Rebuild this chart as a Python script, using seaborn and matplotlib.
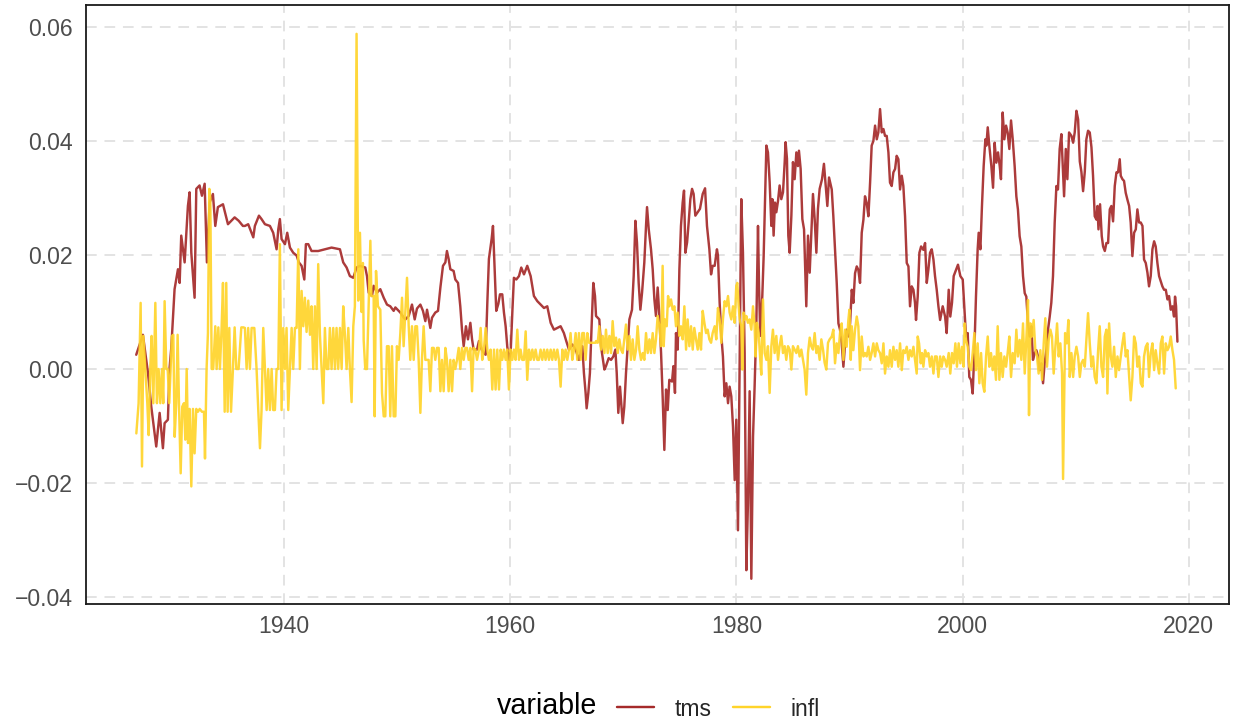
import numpy as np
import pandas as pd
import matplotlib
matplotlib.use("Agg")
import matplotlib.pyplot as plt
import seaborn as sns
from matplotlib.lines import Line2D

# ---------------- data (decimal year, value in per-mille) ----------------
tms_year = [
    1926.94, 1927.53, 1927.98, 1928.27, 1928.71, 1929.01, 1929.30, 1929.45, 1929.74, 1929.89,
    1930.04, 1930.33, 1930.63, 1930.78, 1930.92, 1931.22, 1931.51, 1931.66, 1931.81, 1932.10,
    1932.25, 1932.54, 1932.75, 1932.99, 1933.19, 1933.43, 1933.72, 1933.93, 1934.16, 1934.61,
    1935.05, 1935.64, 1936.00, 1936.37,
    1936.55, 1936.84, 1937.14, 1937.29, 1937.43, 1937.79, 1938.02, 1938.32, 1938.76, 1939.05,
    1939.35, 1939.50, 1939.64, 1939.79, 1940.09, 1940.29, 1940.53, 1940.82, 1941.12, 1941.32,
    1941.56, 1941.80, 1941.94, 1942.15, 1942.44, 1943.03, 1943.62, 1944.21, 1944.95, 1945.24,
    1945.54, 1945.83, 1946.13, 1946.42, 1946.72,
    1947.19, 1947.34, 1947.49, 1947.78, 1947.93, 1948.23, 1948.52, 1948.82, 1949.11, 1949.40,
    1949.70, 1949.85, 1950.14, 1950.29, 1950.58, 1950.73, 1951.03, 1951.32, 1951.56, 1951.76,
    1952.06, 1952.29, 1952.50, 1952.65, 1952.94, 1953.09, 1953.38, 1953.62, 1953.83, 1954.06,
    1954.27, 1954.41, 1954.56, 1954.71, 1955.00, 1955.15, 1955.39, 1955.59, 1955.74, 1955.89,
    1956.09, 1956.27, 1956.48, 1956.63, 1956.77, 1957.07,
    1957.24, 1957.48, 1957.68, 1957.83, 1957.98, 1958.12, 1958.36, 1958.48, 1958.63, 1958.77,
    1958.95, 1959.10, 1959.30, 1959.45, 1959.60, 1959.74, 1959.89, 1960.04, 1960.19, 1960.33,
    1960.54, 1960.78, 1960.98, 1961.22, 1961.51, 1961.81, 1962.10, 1962.40, 1962.69, 1962.99,
    1963.28, 1963.58, 1963.87, 1964.17, 1964.46, 1964.75, 1964.96, 1965.20, 1965.49, 1965.79,
    1966.08, 1966.38, 1966.52, 1966.67, 1966.76, 1966.91, 1967.05, 1967.20, 1967.35, 1967.50,
    1967.59, 1967.88, 1968.03, 1968.33, 1968.47, 1968.71, 1968.92, 1969.12, 1969.30, 1969.42,
    1969.56, 1969.71, 1969.95, 1970.09, 1970.24, 1970.54, 1970.77, 1970.92, 1971.07, 1971.21,
    1971.36, 1971.51, 1971.66, 1971.86, 1972.01, 1972.10, 1972.25, 1972.45, 1972.60, 1972.75,
    1972.89, 1973.04, 1973.19, 1973.34, 1973.48, 1973.63, 1973.78, 1973.93, 1974.07, 1974.31,
    1974.43, 1974.57, 1974.66, 1974.81, 1974.96, 1975.10, 1975.25, 1975.37, 1975.49, 1975.64,
    1975.78, 1975.93, 1976.08, 1976.22, 1976.37, 1976.58, 1976.78, 1977.02, 1977.23, 1977.40,
    1977.61, 1977.76, 1977.90,
    1978.08, 1978.28, 1978.37, 1978.52, 1978.67, 1978.81, 1978.96, 1979.11, 1979.26, 1979.40,
    1979.55, 1979.70, 1979.85, 1979.99, 1980.14, 1980.29, 1980.43, 1980.58, 1980.73, 1980.88,
    1981.02, 1981.17, 1981.32, 1981.47, 1981.61, 1981.76, 1981.91, 1982.00, 1982.11, 1982.29,
    1982.41, 1982.53, 1982.65, 1982.79, 1982.94, 1983.09, 1983.18, 1983.29, 1983.41, 1983.53,
    1983.68, 1983.82, 1983.97, 1984.12, 1984.27, 1984.35, 1984.47, 1984.59, 1984.71, 1984.86,
    1985.00, 1985.15, 1985.30, 1985.44, 1985.53, 1985.68, 1985.83, 1985.98, 1986.18, 1986.33,
    1986.48, 1986.62, 1986.77, 1986.92, 1987.07, 1987.21, 1987.36, 1987.57, 1987.74, 1987.89,
    1988.04, 1988.19,
    1988.43, 1988.57, 1988.72, 1988.87, 1989.02, 1989.16, 1989.31, 1989.46, 1989.61, 1989.75,
    1989.90, 1990.05, 1990.20, 1990.34, 1990.49, 1990.64, 1990.78, 1990.93, 1991.08, 1991.23,
    1991.37, 1991.52, 1991.67, 1991.82, 1991.96, 1992.11, 1992.26, 1992.41, 1992.55, 1992.70,
    1992.85, 1993.00, 1993.14, 1993.29, 1993.44, 1993.58, 1993.73, 1993.88, 1994.03, 1994.17,
    1994.32, 1994.47, 1994.62, 1994.76, 1994.91, 1995.06, 1995.21, 1995.35, 1995.50, 1995.65,
    1995.79, 1995.88, 1996.03, 1996.18, 1996.33, 1996.53, 1996.68, 1996.83, 1996.97, 1997.12,
    1997.27, 1997.42, 1997.56, 1997.71, 1997.86, 1998.01, 1998.24, 1998.45, 1998.59,
    1998.77, 1998.91, 1999.06, 1999.21, 1999.42, 1999.59, 1999.80, 2000.01, 2000.15, 2000.30,
    2000.45, 2000.59, 2000.74, 2000.89, 2001.04, 2001.18, 2001.33, 2001.42, 2001.57, 2001.71,
    2001.86, 2002.01, 2002.10, 2002.22, 2002.36, 2002.54, 2002.69, 2002.83, 2002.98, 2003.13,
    2003.28, 2003.39, 2003.54, 2003.69, 2003.84, 2003.98, 2004.13, 2004.28, 2004.43, 2004.60,
    2004.75, 2004.89, 2005.04, 2005.19, 2005.34, 2005.49, 2005.63, 2005.78, 2005.93, 2006.08,
    2006.22, 2006.37, 2006.52, 2006.67, 2006.81, 2006.96, 2007.11, 2007.25, 2007.40, 2007.55,
    2007.70, 2007.84, 2007.99, 2008.14, 2008.29, 2008.43, 2008.58, 2008.73,
    2008.97, 2009.12, 2009.26, 2009.41, 2009.62, 2009.77, 2009.91, 2010.06, 2010.21, 2010.36,
    2010.50, 2010.65, 2010.80, 2010.94, 2011.09, 2011.24, 2011.39, 2011.53, 2011.68, 2011.83,
    2011.92, 2012.01, 2012.15, 2012.30, 2012.42, 2012.57, 2012.71, 2012.86, 2013.01, 2013.15,
    2013.30, 2013.45, 2013.60, 2013.74, 2013.89, 2013.98, 2014.13, 2014.27, 2014.42, 2014.57,
    2014.72, 2014.86, 2015.01, 2015.16, 2015.31, 2015.45, 2015.60, 2015.75, 2015.90, 2016.04,
    2016.19, 2016.34, 2016.48, 2016.63, 2016.78, 2016.93, 2017.07, 2017.22, 2017.37, 2017.52,
    2017.66, 2017.81, 2017.96, 2018.11, 2018.25, 2018.40, 2018.55, 2018.69, 2018.78, 2018.87,
    2018.99,
]
tms_permille = [
    2.5, 6.0, -0.7, -6.6, -13.6, -7.7, -13.9, -9.5, -8.9, 0.2,
    3.7, 14.0, 17.5, 15.1, 23.4, 18.7, 28.6, 31.0, 20.4, 12.5,
    31.6, 32.2, 30.4, 32.5, 18.7, 29.2, 30.7, 25.1, 28.4, 28.9,
    25.4, 26.6, 26.0, 25.1,
    25.1, 25.4, 23.9, 23.1, 25.1, 26.9, 26.3, 25.4, 25.1, 23.9,
    21.0, 24.5, 26.3, 22.8, 21.9, 23.9, 21.3, 20.4, 19.9, 18.7,
    18.1, 15.7, 21.9, 21.9, 20.7, 20.7, 21.0, 21.3, 21.0, 18.7,
    17.8, 16.3, 16.0, 17.8, 18.1,
    17.8, 16.3, 13.4, 12.8, 14.6, 13.4, 14.0, 12.5, 11.3, 11.0,
    10.2, 10.8, 10.2, 9.9, 9.0, 8.7, 9.3, 11.3, 8.7, 10.6,
    11.3, 10.2, 8.4, 10.4, 7.2, 9.0, 9.9, 10.2, 14.3, 18.1,
    18.7, 20.7, 19.3, 17.5, 17.2, 15.7, 15.1, 11.0, 6.9, 4.0,
    7.5, 5.2, 8.1, 5.2, 3.4, 3.4,
    4.9, 3.4, 2.8, 2.5, 11.6, 19.3, 22.8, 25.1, 17.5, 10.2,
    11.4, 13.1, 13.1, 9.9, 7.5, 4.0, 1.6, 2.8, 9.9, 16.0,
    15.7, 16.3, 17.8, 16.6, 18.1, 16.3, 12.8, 11.9, 11.3, 10.7,
    11.0, 8.1, 6.9, 7.2, 7.5, 6.3, 4.9, 3.4, 4.3, 3.4,
    1.6, 4.0, -0.7, -4.2, -6.9, -4.2, -0.7, 7.5, 15.1, 12.8,
    9.3, 8.7, 4.0, -0.1, 0.5, 1.9, 1.6, 2.2, 3.4, -0.7,
    -7.7, -3.1, -9.5, -6.6, -0.7, 8.7, 10.4, 16.3, 26.0, 22.2,
    15.1, 10.4, 13.4, 18.7, 25.1, 28.4, 24.5, 21.0, 17.5, 12.2,
    9.3, 14.3, 9.3, 2.8, -4.8, -14.2, -3.6, -7.2, -1.9, -2.2,
    0.5, -4.2, 6.3, 3.4, 17.5, 25.1, 29.2, 31.3, 20.4, 22.2,
    25.7, 29.8, 31.6, 30.7, 26.9, 27.5, 28.1, 30.7, 31.7, 25.1,
    21.0, 16.6, 18.1,
    18.1, 21.0, 19.9, 11.6, 5.8, 2.2, -4.8, -2.5, -6.0, -3.1,
    -4.8, -10.1, -19.5, -8.9, -28.3, 2.8, 29.8, 20.4, 2.8, -35.3,
    -23.6, -3.9, -36.8, -11.9, -3.1, 7.5, 25.1, 14.6, 5.8, 12.8,
    19.8, 29.2, 39.2, 38.0, 32.8, 25.1, 29.8, 23.4, 29.2, 27.5,
    29.5, 32.2, 29.8, 31.0, 36.3, 39.8, 36.9, 23.4, 20.4, 26.9,
    36.3, 33.3, 38.0, 35.6, 38.3, 35.1, 26.3, 24.5, 11.0, 23.4,
    16.9, 23.4, 30.7, 26.3, 20.4, 28.1, 31.6, 33.3, 36.0, 32.2,
    28.6, 33.6,
    31.5, 26.8, 21.0, 15.1, 8.0, 6.9, 4.5, 0.4, 4.5, 6.9,
    5.7, 8.0, 13.9, 11.6, 16.8, 18.0, 17.4, 15.1, 23.9, 26.2,
    30.3, 29.1, 26.8, 32.7, 39.2, 40.0, 42.7, 40.3, 41.5, 45.6,
    41.5, 42.1, 40.9, 40.9, 38.0, 32.7, 32.1, 34.5, 35.1, 37.4,
    36.8, 31.5, 33.9, 32.1, 26.8, 18.6, 18.0, 11.0, 14.5, 13.9,
    11.6, 8.6, 12.7, 20.4, 21.5, 20.9, 22.1, 15.1, 17.4, 20.4,
    21.0, 19.2, 16.3, 13.9, 11.0, 8.6, 11.0, 9.2, 6.3,
    13.9, 9.2, 11.6, 16.3, 17.4, 18.3, 16.3, 15.7, 11.0, 5.7,
    6.3, -1.4, -1.9, -4.3, 3.3, 12.7, 21.0, 23.9, 21.0, 28.6,
    35.6, 40.3, 39.2, 42.4, 39.2, 35.6, 31.8, 39.7, 36.2, 38.0,
    35.6, 33.3, 45.0, 40.3, 42.7, 41.5, 38.6, 43.6, 40.3, 35.6,
    30.3, 28.0, 23.3, 21.5, 16.3, 13.3, 12.7, 8.0, 5.7, 7.5,
    1.6, 2.8, 3.3, 2.2, -0.2, 1.0, -2.5, 1.0, 3.3, 6.9,
    9.2, 11.6, 16.3, 25.7, 32.1, 31.5, 38.6, 41.2,
    30.3, 38.6, 33.3, 41.5, 40.9, 39.7, 41.5, 45.3, 43.8, 36.4,
    34.6, 31.2, 34.6, 40.3, 41.8, 41.5, 38.9, 33.9, 26.8, 26.2,
    28.6, 24.5, 28.9, 23.3, 21.5, 20.7, 22.1, 22.1, 28.0, 28.6,
    25.9, 32.1, 34.5, 34.5, 36.8, 33.9, 33.3, 33.0, 30.9, 29.7,
    28.6, 25.7, 19.8, 23.9, 24.5, 28.0, 25.7, 25.7, 25.1, 19.2,
    18.6, 16.9, 14.5, 16.3, 21.0, 22.4, 21.5, 18.6, 16.3, 15.4,
    14.5, 13.9, 13.9, 12.2, 12.8, 10.4, 11.0, 9.2, 12.7, 11.0,
    4.8,
]

infl_year = [
    1926.95, 1927.15, 1927.33, 1927.45, 1927.57, 1927.74, 1927.92, 1928.04, 1928.18, 1928.30,
    1928.45, 1928.63, 1928.77, 1928.92, 1929.07, 1929.22, 1929.33, 1929.45, 1929.60, 1929.72,
    1929.86, 1929.98, 1930.10, 1930.22, 1930.34, 1930.48, 1930.60, 1930.72, 1930.87, 1931.01,
    1931.16, 1931.28, 1931.40, 1931.52, 1931.66, 1931.81, 1931.96, 1932.10, 1932.25, 1932.40,
    1932.55, 1932.75, 1932.93, 1933.02, 1933.16, 1933.28, 1933.40, 1933.49, 1933.61, 1933.75,
    1933.93, 1934.05, 1934.20, 1934.34, 1934.49, 1934.61, 1934.76, 1934.90, 1935.02, 1935.17,
    1935.32, 1935.49, 1935.64, 1935.79, 1935.99, 1936.23, 1936.41,
    1936.55, 1936.70, 1936.84, 1936.99, 1937.14, 1937.38, 1937.58, 1937.73, 1937.88, 1938.02,
    1938.17, 1938.32, 1938.47, 1938.61, 1938.76, 1938.91, 1939.05, 1939.20, 1939.35, 1939.50,
    1939.64, 1939.79, 1939.94, 1940.09, 1940.23, 1940.38, 1940.53, 1940.68, 1940.82, 1940.97,
    1941.12, 1941.27, 1941.41, 1941.56, 1941.71, 1941.85, 1942.00, 1942.15, 1942.30, 1942.44,
    1942.59, 1942.74, 1942.89, 1943.03, 1943.18, 1943.33, 1943.48, 1943.62, 1943.77, 1943.92,
    1944.06, 1944.21, 1944.36, 1944.51, 1944.65, 1944.80, 1944.95, 1945.10, 1945.24, 1945.39,
    1945.54, 1945.69, 1945.83, 1945.98, 1946.13, 1946.27, 1946.42, 1946.57, 1946.72, 1946.86,
    1946.98, 1947.05, 1947.19, 1947.34, 1947.64, 1947.73, 1947.93, 1948.02, 1948.14, 1948.31,
    1948.52, 1948.67, 1948.82, 1948.96, 1949.11, 1949.26, 1949.40, 1949.55, 1949.70, 1949.85,
    1949.99, 1950.14, 1950.29, 1950.44, 1950.58, 1950.73, 1950.88, 1951.03, 1951.17, 1951.32,
    1951.47, 1951.62, 1951.76, 1951.91, 1952.06, 1952.20, 1952.35, 1952.50, 1952.65, 1952.79,
    1952.94, 1953.09, 1953.24, 1953.38, 1953.53, 1953.68, 1953.83, 1953.97, 1954.12, 1954.27,
    1954.41, 1954.56, 1954.71, 1954.86, 1955.00, 1955.15, 1955.30, 1955.45, 1955.59, 1955.74,
    1955.89, 1956.04, 1956.18, 1956.33, 1956.48, 1956.63, 1956.77, 1956.92, 1957.07,
    1957.24, 1957.39, 1957.53, 1957.68, 1957.83, 1957.98, 1958.12, 1958.27, 1958.42, 1958.57,
    1958.71, 1958.86, 1959.01, 1959.16, 1959.30, 1959.45, 1959.60, 1959.74, 1959.89, 1960.04,
    1960.19, 1960.33, 1960.48, 1960.63, 1960.78, 1960.92, 1961.07, 1961.22, 1961.37, 1961.51,
    1961.66, 1961.81, 1961.96, 1962.10, 1962.25, 1962.40, 1962.54, 1962.69, 1962.84, 1962.99,
    1963.13, 1963.28, 1963.43, 1963.58, 1963.72, 1963.87, 1964.02, 1964.17, 1964.31, 1964.46,
    1964.61, 1964.75, 1964.90, 1965.05, 1965.20, 1965.34, 1965.49, 1965.64, 1965.79, 1965.93,
    1966.08, 1966.23, 1966.38, 1966.52, 1966.67, 1966.82, 1966.97, 1967.26, 1967.55,
    1967.59, 1967.74, 1967.88, 1968.03, 1968.18, 1968.33, 1968.47, 1968.62, 1968.77, 1968.92,
    1969.06, 1969.21, 1969.36, 1969.51, 1969.65, 1969.80, 1969.95, 1970.09, 1970.24, 1970.39,
    1970.54, 1970.68, 1970.83, 1970.98, 1971.13, 1971.27, 1971.42, 1971.57, 1971.72, 1971.86,
    1972.01, 1972.16, 1972.31, 1972.45, 1972.60, 1972.75, 1972.89, 1973.04, 1973.19, 1973.34,
    1973.48, 1973.57, 1973.69, 1973.84, 1973.96, 1974.07, 1974.22, 1974.37, 1974.52, 1974.66,
    1974.81, 1974.96, 1975.10, 1975.25, 1975.40, 1975.55, 1975.69, 1975.84, 1975.99, 1976.14,
    1976.28, 1976.43, 1976.58, 1976.73, 1976.87, 1977.02, 1977.17, 1977.32, 1977.46, 1977.61,
    1977.76, 1977.90,
    1978.08, 1978.22, 1978.37, 1978.52, 1978.67, 1978.81, 1978.96, 1979.11, 1979.26, 1979.40,
    1979.55, 1979.70, 1979.85, 1979.99, 1980.08, 1980.20, 1980.29, 1980.43, 1980.52, 1980.64,
    1980.76, 1980.88, 1981.02, 1981.17, 1981.32, 1981.47, 1981.61, 1981.70, 1981.82, 1981.97,
    1982.11, 1982.20, 1982.35, 1982.50, 1982.65, 1982.79, 1982.94, 1983.09, 1983.23, 1983.38,
    1983.53, 1983.68, 1983.82, 1983.97, 1984.12, 1984.27, 1984.41, 1984.56, 1984.71, 1984.86,
    1985.00, 1985.15, 1985.30, 1985.44, 1985.59, 1985.74, 1985.89, 1986.03, 1986.18, 1986.33,
    1986.48, 1986.62, 1986.77, 1986.92, 1987.07, 1987.21, 1987.36, 1987.51, 1987.66, 1987.80,
    1987.95, 1988.10, 1988.24,
    1988.43, 1988.57, 1988.72, 1988.87, 1989.02, 1989.16, 1989.31, 1989.46, 1989.61, 1989.75,
    1989.90, 1989.99, 1990.11, 1990.20, 1990.34, 1990.49, 1990.64, 1990.78, 1990.93, 1991.08,
    1991.23, 1991.37, 1991.52, 1991.67, 1991.82, 1991.96, 1992.11, 1992.26, 1992.41, 1992.55,
    1992.70, 1992.85, 1993.00, 1993.14, 1993.29, 1993.44, 1993.58, 1993.73, 1993.88, 1994.03,
    1994.17, 1994.32, 1994.47, 1994.62, 1994.76, 1994.91, 1995.06, 1995.21, 1995.35, 1995.50,
    1995.65, 1995.79, 1995.94, 1996.03, 1996.15, 1996.30, 1996.41, 1996.53, 1996.68, 1996.83,
    1996.97, 1997.12, 1997.27, 1997.42, 1997.56, 1997.71, 1997.86, 1998.01, 1998.15, 1998.30,
    1998.45, 1998.59,
    1998.77, 1998.91, 1999.06, 1999.21, 1999.36, 1999.50, 1999.65, 1999.80, 1999.95, 2000.09,
    2000.18, 2000.30, 2000.45, 2000.59, 2000.74, 2000.89, 2001.04, 2001.18, 2001.33, 2001.48,
    2001.63, 2001.77, 2001.92, 2002.07, 2002.22, 2002.36, 2002.51, 2002.66, 2002.80, 2002.95,
    2003.10, 2003.25, 2003.39, 2003.54, 2003.69, 2003.84, 2003.98, 2004.13, 2004.28, 2004.43,
    2004.60, 2004.75, 2004.89, 2005.04, 2005.19, 2005.34, 2005.49, 2005.63, 2005.78, 2005.87,
    2005.99, 2006.13, 2006.28, 2006.43, 2006.58, 2006.72, 2006.87, 2007.02, 2007.17, 2007.31,
    2007.46, 2007.61, 2007.76, 2007.90, 2008.05, 2008.20, 2008.35, 2008.49, 2008.64, 2008.79,
    2008.88,
    2009.06, 2009.21, 2009.35, 2009.47, 2009.62, 2009.77, 2009.91, 2010.06, 2010.21, 2010.36,
    2010.50, 2010.65, 2010.80, 2010.94, 2011.09, 2011.24, 2011.39, 2011.53, 2011.68, 2011.83,
    2011.98, 2012.12, 2012.27, 2012.42, 2012.57, 2012.71, 2012.80, 2012.95, 2013.10, 2013.24,
    2013.39, 2013.54, 2013.69, 2013.83, 2013.98, 2014.13, 2014.27, 2014.42, 2014.57, 2014.72,
    2014.86, 2015.01, 2015.16, 2015.31, 2015.45, 2015.60, 2015.75, 2015.90, 2016.04, 2016.19,
    2016.34, 2016.48, 2016.63, 2016.78, 2016.93, 2017.07, 2017.22, 2017.37, 2017.52, 2017.66,
    2017.81, 2017.96, 2018.11, 2018.25, 2018.40, 2018.55, 2018.69, 2018.84,
]
infl_permille = [
    -11.3, -6.0, 11.6, -17.1, 5.8, 0.0, -6.0, -11.6, 0.0, 5.8,
    -6.0, 11.6, -6.0, 0.0, -6.0, 0.0, -6.0, 11.9, 0.0, 0.0,
    -6.0, 0.0, 5.8, 6.0, -11.9, -6.0, 6.0, -6.0, -18.3, -6.6,
    -6.0, -12.4, 0.0, -13.0, -7.0, -20.6, -7.0, -14.8, -7.0, -7.5,
    -7.0, -7.5, -7.5, -15.7, 0.0, 6.3, 31.6, 30.0, 0.0, 0.0,
    7.5, 0.0, 7.3, 0.0, 7.3, 15.1, -7.5, 15.1, -7.5, 7.2,
    -7.5, 0.0, 7.3, 0.0, 0.0, 7.3, 7.3,
    7.2, 0.0, 7.2, 0.0, 7.2, 7.2, 0.0, -7.2, -13.9, -7.2,
    7.2, 0.0, -7.2, 0.0, -7.2, 0.0, -7.2, -7.2, 0.0, 0.0,
    21.9, -7.2, 7.2, 0.0, 7.2, -7.2, 0.0, 7.2, 0.0, 7.2,
    7.2, 21.0, 0.0, 13.7, 7.5, 12.5, 6.5, 12.0, 6.0, 11.0,
    0.0, 11.0, 0.0, 18.4, 6.0, 0.0, -6.0, 7.2, 0.0, 0.0,
    7.2, 0.0, 7.2, 0.0, 7.2, 0.0, 7.2, 0.0, 11.0, 6.0,
    0.0, 7.2, 0.0, -5.8, 7.5, 11.0, 58.8, 12.0, 23.9, 10.0,
    18.6, 5.0, 0.0, 0.0, 22.5, 12.8, 12.8, -8.3, 17.2, 11.0,
    10.4, -4.2, -8.3, -8.3, 4.0, 4.0, -8.3, 4.0, -8.3, -8.3,
    4.0, 1.6, 6.3, 12.5, 4.0, 9.9, 16.0, 7.5, 1.6, 7.5,
    1.6, 7.5, 7.5, 1.6, -7.7, 1.6, 7.5, 1.6, 1.6, 1.6,
    -3.9, 3.7, 3.7, 1.6, 3.7, 3.7, -3.9, 1.6, -3.9, 3.7,
    1.6, -3.9, 1.6, -3.9, 1.6, 0.0, 1.6, 3.7, 0.0, 3.7,
    1.6, 3.7, 3.7, 1.6, 3.7, -3.9, 3.7, 3.4, 1.6,
    3.4, 7.2, 1.6, 3.4, 7.2, 3.4, 1.6, 3.4, -3.6, 3.4,
    -3.6, 3.4, -3.6, 3.4, 1.6, 3.4, 1.6, 3.4, -3.6, 3.4,
    1.6, 3.4, 1.6, 6.9, 1.6, 3.4, 1.6, 1.6, 6.6, -1.9,
    3.4, 1.6, 3.4, 1.6, 3.4, 1.6, 1.6, 3.4, 1.6, 3.4,
    1.6, 3.4, 1.6, 3.4, 1.6, 3.4, 1.6, 3.4, 1.6, -3.1,
    3.4, 1.6, 3.4, 1.6, 3.4, 6.3, 1.6, 3.4, 6.3, 1.6,
    6.3, 1.6, 6.3, 6.3, 1.6, 6.3, 4.6, 4.6, 4.6,
    4.9, 4.6, 7.5, 3.4, 5.8, 2.8, 6.9, 2.8, 5.8, 2.8,
    8.4, 4.0, 5.5, 2.8, 5.2, 3.4, 2.8, 5.2, 7.8, 3.4,
    5.8, 1.6, 5.2, 1.6, 3.4, 7.5, 3.4, 1.6, 2.8, 1.6,
    6.3, 2.8, 5.2, 2.8, 6.3, 2.8, 5.2, 9.3, 7.5, 4.0,
    18.1, 4.0, 8.7, 7.5, 12.8, 11.0, 12.2, 10.4, 11.0, 7.5,
    9.9, 5.8, 7.5, 5.2, 11.0, 3.4, 8.7, 4.0, 7.5, 3.4,
    7.2, 5.2, 3.4, 6.3, 3.4, 10.2, 8.1, 6.3, 6.9, 5.2,
    4.6, 6.3,
    7.5, 5.2, 10.7, 8.7, 4.6, 8.7, 11.9, 11.0, 12.8, 9.9,
    8.7, 11.0, 8.1, 14.6, 15.1, 11.0, 8.7, 7.5, -0.1, 9.9,
    8.7, 9.3, 8.1, 8.7, 6.9, 11.0, 7.5, 2.2, 8.1, 6.3,
    1.6, -1.0, 12.2, 2.8, 1.6, 4.0, -4.2, 4.0, 6.9, 2.8,
    5.8, 1.6, 4.0, 5.8, 2.8, 4.0, 1.6, 4.0, 3.4, -0.1,
    4.0, 3.4, 2.8, 4.0, 2.2, 3.4, 1.6, -0.1, -4.5, 2.8,
    5.5, 4.0, 3.4, 6.3, 2.8, 4.0, 1.6, 5.2, 3.4, 1.1,
    -0.1, 4.6, 5.2,
    5.7, 6.9, 1.0, 4.5, 2.8, 6.3, 8.0, 1.6, 6.9, 3.9,
    8.6, 10.4, 1.6, 7.5, 3.3, 6.9, 9.2, 7.5, -0.2, 5.7,
    2.2, 2.8, 2.2, 3.9, 1.6, 2.8, 4.5, 2.2, 4.5, 3.3,
    2.8, 1.0, 4.5, -0.8, 2.2, 0.4, 3.3, 0.4, 3.9, 1.6,
    3.3, 0.4, 4.5, -0.2, 3.3, 2.8, 3.9, 1.6, 3.3, 2.2,
    3.9, 1.6, -0.8, 5.7, 4.5, 1.0, 2.8, 0.4, 3.3, 2.2,
    2.8, 0.4, 2.2, -0.8, 2.2, 2.2, -1.4, 2.2, 0.4, 2.2,
    1.6, 0.4,
    2.8, -0.8, 2.8, 1.0, 4.5, 0.4, 4.5, 1.0, 3.9, 0.4,
    8.0, 5.1, 3.9, 0.4, -0.2, 2.8, 6.3, -0.2, 4.5, -2.5,
    2.8, -2.5, -4.0, 2.2, 5.7, 0.4, 2.8, -0.2, 2.2, -1.9,
    7.5, -1.9, 2.8, -1.4, 2.2, 0.4, 2.8, 5.7, -1.4, 2.8,
    1.0, 6.9, 2.2, 5.1, 1.6, 8.0, -0.8, 5.1, 12.1, -8.1,
    8.0, 5.7, 8.6, 3.3, 2.2, -0.8, 3.3, -1.9, 4.5, 8.9,
    0.4, 5.1, 6.9, 5.7, -0.8, 3.9, 8.0, 2.2, 4.5, -0.8,
    -19.3,
    6.3, 4.5, 8.6, -1.4, 2.8, -1.4, 2.2, 3.9, 2.2, -1.4,
    1.0, 1.6, 0.4, 5.1, 9.8, 4.5, 0.4, 2.2, -1.4, -2.5,
    3.3, 7.5, 0.4, -1.4, 5.7, 6.9, -4.3, 8.0, 2.2, 0.4,
    3.9, -1.4, 2.2, -0.2, 2.2, 4.5, 6.3, 2.2, 3.3, -1.4,
    -5.5, -1.4, 5.7, 4.5, 0.4, 2.2, -2.5, -3.1, 2.2, 3.9,
    4.5, -1.4, 2.8, 4.5, -0.2, 3.3, 1.0, -0.8, 4.5, 5.7,
    -0.8, 4.5, 3.3, 3.9, 5.7, 3.3, 1.6, -3.4,
]

variables = ["tms", "infl"]
palette = {"tms": "#A52A2A", "infl": "#FFD42A"}
x_ticks = [1940, 1960, 1980, 2000, 2020]
y_ticks = [-0.04, -0.02, 0.00, 0.02, 0.04, 0.06]
y_tick_labels = ["\u22120.04", "\u22120.02", "0.00", "0.02", "0.04", "0.06"]

n = min(len(tms_year), len(tms_permille))
m = min(len(infl_year), len(infl_permille))
df = pd.concat([
    pd.DataFrame({"year": tms_year[:n], "value": np.array(tms_permille[:n]) / 1000.0, "variable": "tms"}),
    pd.DataFrame({"year": infl_year[:m], "value": np.array(infl_permille[:m]) / 1000.0, "variable": "infl"}),
], ignore_index=True)

# ---------------- style ----------------
sns.set_theme(style="white")
plt.rcParams["font.family"] = ["Liberation Sans", "DejaVu Sans"]

W, H = 1233, 721
fig = plt.figure(figsize=(W / 100, H / 100), dpi=100)
ax = fig.add_axes([86 / W, 1 - 604 / H, (1229 - 86) / W, (604 - 5) / H])

sns.lineplot(data=df, x="year", y="value", hue="variable", hue_order=variables,
             palette=palette, estimator=None, sort=False, linewidth=1.75,
             alpha=0.92, legend=False, ax=ax)

ax.set_xlim(1922.5, 2023.55)
ax.set_ylim(-0.04123, 0.06386)
ax.set_xticks(x_ticks)
ax.set_xticklabels([str(t) for t in x_ticks])
ax.set_yticks(y_ticks)
ax.set_yticklabels(y_tick_labels)
ax.set_xlabel("")
ax.set_ylabel("")

ax.grid(True, which="major", color="#E3E3E3", linewidth=1.4, linestyle=(0, (5.5, 4)))
ax.set_axisbelow(True)
for sp in ax.spines.values():
    sp.set_visible(True)
    sp.set_color("#1A1A1A")
    sp.set_linewidth(1.3)

ax.tick_params(axis="both", which="major", length=4.7, width=1.2, color="#333333",
               labelsize=16.6, labelcolor="#4D4D4D", direction="out")
ax.tick_params(axis="x", pad=3.0)
ax.tick_params(axis="y", pad=4.6)

# legend at bottom: title on the left, keys to the right
fig.text(597 / W, 1.5 / H, "variable", ha="right", va="bottom",
         fontsize=20.6, color="#000000")
handles = [Line2D([0], [0], color=palette[v], linewidth=1.75) for v in variables]
fig.legend(handles, variables, loc="center left", bbox_to_anchor=(617 / W, 1 - 709 / H),
           ncol=2, frameon=False, fontsize=16.6, handlelength=1.62, handletextpad=0.88,
           columnspacing=0.92, borderpad=0, borderaxespad=0)

fig.savefig("out.png", dpi=100)
